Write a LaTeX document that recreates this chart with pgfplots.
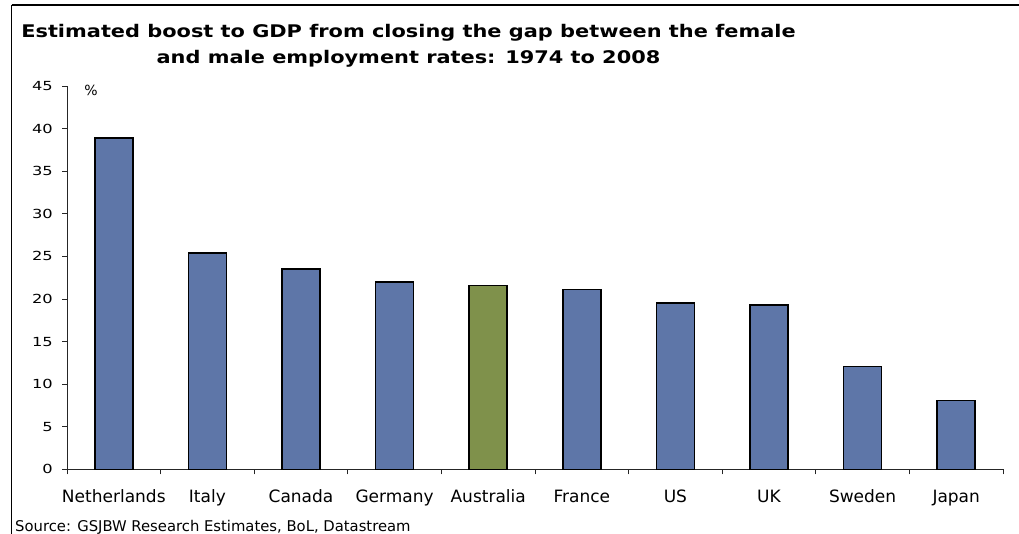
\documentclass[border=0pt]{standalone}
\usepackage{fontspec}
\setmainfont{DejaVu Sans}
\newfontfamily\ylfont{DejaVu Sans}[FakeStretch=1.3]
\newfontfamily\titlefont{DejaVu Sans}[FakeStretch=1.2]
\usepackage{pgfplots}
\pgfplotsset{compat=1.18}
\definecolor{barblue}{RGB}{94,118,168}
\definecolor{bargreen}{RGB}{127,145,75}
\begin{document}
\begin{tikzpicture}[x=1bp,y=1bp]
\useasboundingbox (0,0) rectangle (1019,-534);
\coordinate (O) at (67,-469.3);
\draw[line width=1.2bp] (11.5,-5) -- (1019,-5);
\draw[line width=1.2bp] (11.5,-5) -- (11.5,-534);
\node[anchor=base, inner sep=0pt, font=\titlefont\bfseries\fontsize{17.4bp}{20bp}\selectfont] at (408.5,-37.7) {Estimated boost to GDP from closing the gap between the female};
\node[anchor=base, inner sep=0pt, font=\titlefont\bfseries\fontsize{17.4bp}{20bp}\selectfont] at (408.5,-63.5) {and male employment rates: 1974 to 2008};
\node[anchor=base west, inner sep=0pt, font=\fontsize{14.8bp}{16bp}\selectfont] at (15,-531) {Source: GSJBW Research Estimates, BoL, Datastream};
\node[anchor=center, inner sep=0pt, font=\fontsize{14bp}{16bp}\selectfont] at (91,-90) {\%};
\begin{axis}[
  at={(O)}, anchor=south west,
  scale only axis, width=936bp, height=383.2bp,
  xmin=0, xmax=10, ymin=0, ymax=45,
  axis lines*=left,
  axis line style={line width=0.9bp, black!85},
  ytick={0,5,...,45},
  xtick={0,1,...,10},
  xticklabels={Netherlands,Italy,Canada,Germany,Australia,France,US,UK,Sweden,Japan},
  x tick label as interval,
  tick align=outside,
  major tick length=5bp,
  tick style={line width=0.9bp, black!85},
  yticklabel style={font=\ylfont\fontsize{12.5bp}{14bp}\selectfont, anchor=east, inner sep=0pt, xshift=-9bp},
  xticklabel style={font=\fontsize{17bp}{20bp}\selectfont, anchor=base, inner sep=0pt},
  every x tick label/.append style={yshift=-28bp},
  /pgf/number format/assume math mode=true,
  clip=false,
]
\addplot[ybar, bar shift=0pt, bar width=38bp, fill=barblue, draw=black, line width=1.5bp]
  coordinates {(0.5,38.9) (1.5,25.4) (2.5,23.5) (3.5,22.0) (5.5,21.1) (6.5,19.5) (7.5,19.3) (8.5,12.1) (9.5,8.1)};
\addplot[ybar, bar shift=0pt, bar width=38bp, fill=bargreen, draw=black, line width=1.5bp]
  coordinates {(4.5,21.6)};
\end{axis}
\end{tikzpicture}
\end{document}
